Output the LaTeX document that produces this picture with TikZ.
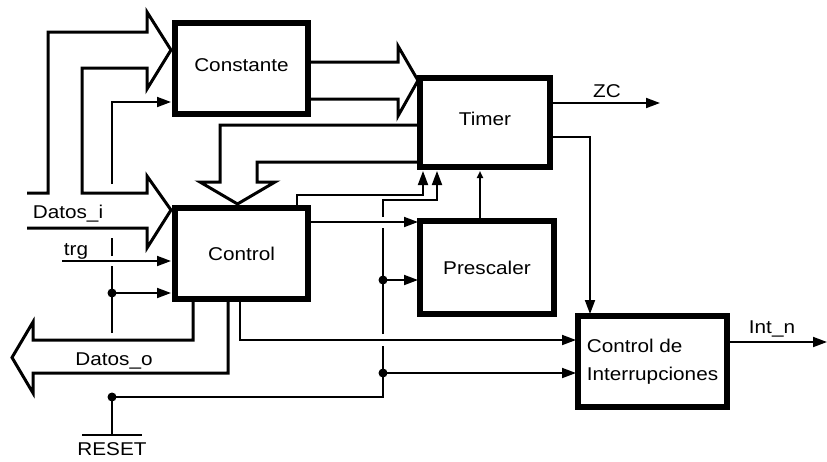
\documentclass[tikz,border=0pt]{standalone}
\usepackage{fontspec}
\setmainfont{Liberation Sans}[FakeStretch=1.12]
\usetikzlibrary{arrows.meta}
\begin{document}
\begin{tikzpicture}[x=1pt,y=-1pt,
  blk/.style 2 args={draw, line width=6pt, minimum width=#1, minimum height=#2,
    inner sep=0pt, font=\fontsize{18.5}{28}\selectfont, align=center},
  bus/.style={draw, line width=3pt, line join=miter, miter limit=4},
  sig/.style={line width=1.8pt},
  arr/.style={sig, -{Triangle[length=14pt,width=10pt]}},
  sarr/.style={sig, -{Triangle[length=7pt,width=6pt]}},
  lbl/.style={font=\fontsize{18.5}{22}\selectfont, inner sep=0pt, anchor=base},
  jdot/.style={circle, fill, inner sep=0pt, minimum size=9pt}]
\useasboundingbox (0,0) rectangle (827,461);
\fill[white] (0,0) rectangle (827,461);

% blocks
\node[blk={133pt}{91pt}, text depth=6pt] (const) at (241.5,68.5) {Constante};
\node[blk={133pt}{91pt}] (ctrl) at (241.5,253.5) {Control};
\node[blk={130pt}{89pt}, text depth=8pt] (tim) at (485,122.5) {Timer};
\node[blk={134pt}{93pt}] (pres) at (487,267.5) {Prescaler};
\node[blk={149pt}{91pt}, align=left] (cdi) at (652.5,361.5) {Control de\\Interrupciones};

% labels
\node[lbl] (ldi) at (68,218) {Datos\_i};
\node[lbl] (ltrg) at (76,255) {trg};
\node[lbl] (ldo) at (114,365) {Datos\_o};
\node[lbl] (rst) at (112,455) {RESET};
\node[lbl] (lzc) at (607,97) {ZC};
\node[lbl] (lint) at (772,333) {Int\_n};

% junction dots
\node[jdot] (dA) at (112,293) {};
\node[jdot] (dB) at (112,397) {};
\node[jdot] (dC) at (383,280) {};
\node[jdot] (dD) at (383,373) {};

% hollow buses
\draw[bus] (27,193) -- (48,193) -- (48,32) -- (147,32) -- (147,12) -- (171,50)
  -- (147,89) -- (147,68) -- (82,68) -- (82,193) -- (147,193) -- (147,176)
  -- (171,210) -- (147,248) -- (147,228) -- (27,228);
\draw[bus] (311,62) -- (398,62) -- (398,46) -- (418,80.5) -- (398,116) -- (398,99) -- (311,99);
\draw[bus] (417,125) -- (220,125) -- (220,182) -- (200,182) -- (237.5,204)
  -- (275,182) -- (257,182) -- (257,162) -- (417,162);
\draw[bus] (193,302) -- (193,340) -- (33,340) -- (33,322) -- (12,357.5)
  -- (33,393) -- (33,373) -- (228,373) -- (228,302);

% RESET
\draw[sig] (82,435) -- (142,435);
\draw[sig] (112,435) -- (dB.center);
\draw[sig] (112,333) -- (dA.center) -- (112,266) (112,256) -- (112,238);
\draw[arr] (112,184) |- (171,102);
\draw[arr] (dA.center) -- (171,293);
\draw[arr] (62,261) -- (171,261);
\draw[sig] (dB.center) -- (383,397) -- (dD.center) -- (383,346);
\draw[sig] (383,334) -- (dC.center) -- (383,228);
\draw[arr] (383,217) -- (383,200) -- (437,200) -- (437,171);
\draw[arr] (dC.center) -- (418,280);
\draw[arr] (dD.center) -- (576,373);

% control signals
\draw[arr] (297,207) -- (297,195) -- (423,195) -- (423,171);
\draw[arr] (311,222) -- (418,222);
\draw[arr] (240,302) -- (240,340) -- (576,340);
\draw[sarr] (480,218) -- (480,171);
\draw[arr] (553,103) -- (660,103);
\draw[arr] (553,137) -- (590,137) -- (590,314);
\draw[arr] (730,342) -- (827,342);
\end{tikzpicture}
\end{document}
